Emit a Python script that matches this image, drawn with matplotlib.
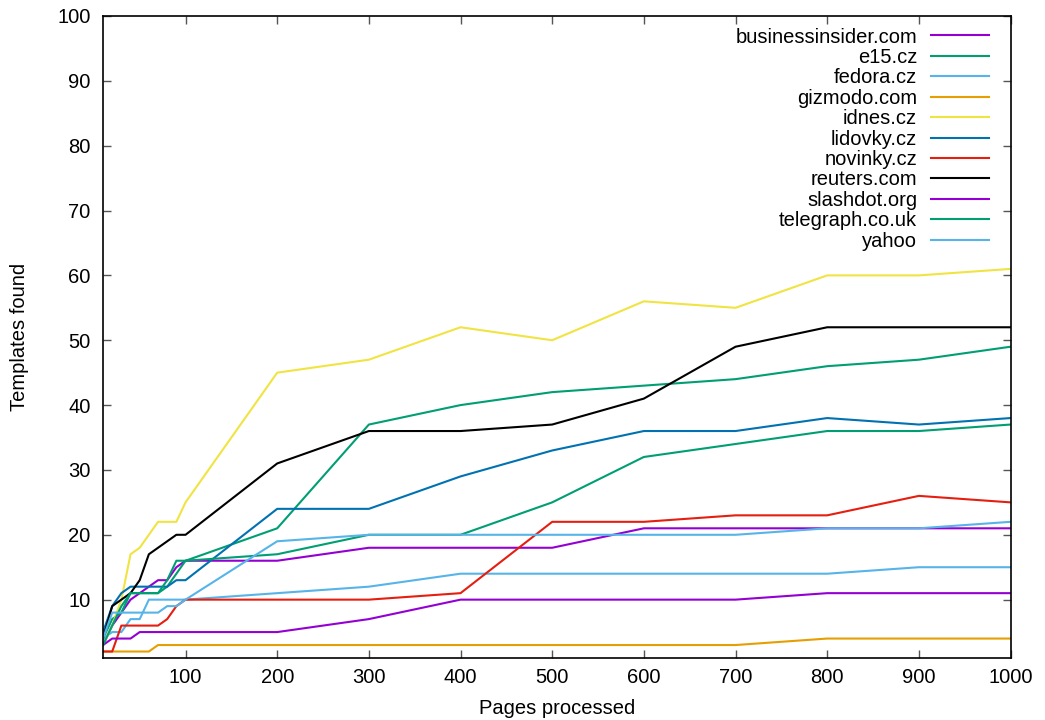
import numpy as np
import matplotlib
matplotlib.use("Agg")
import matplotlib.pyplot as plt

plt.rcParams['font.family'] = ['Liberation Sans', 'DejaVu Sans']

# pages processed
pages = [10, 20, 30, 40, 50, 60, 70, 80, 90, 100,
         200, 300, 400, 500, 600, 700, 800, 900, 1000]

# templates found per site
businessinsider = [3, 6, 8, 10, 11, 12, 13, 13, 15, 16, 16, 18, 18, 18, 21, 21, 21, 21, 21]
e15 = [4, 7, 8, 11, 11, 11, 11, 12, 14, 16, 21, 37, 40, 42, 43, 44, 46, 47, 49]
fedora = [4, 5, 5, 7, 7, 10, 10, 10, 10, 10, 11, 12, 14, 14, 14, 14, 14, 15, 15]
gizmodo = [2, 2, 2, 2, 2, 2, 3, 3, 3, 3, 3, 3, 3, 3, 3, 3, 4, 4, 4]
idnes = [3, 6, 10, 17, 18, 20, 22, 22, 22, 25, 45, 47, 52, 50, 56, 55, 60, 60, 61]
lidovky = [5, 9, 11, 12, 12, 12, 12, 12, 13, 13, 24, 24, 29, 33, 36, 36, 38, 37, 38]
novinky = [2, 2, 6, 6, 6, 6, 6, 7, 9, 10, 10, 10, 11, 22, 22, 23, 23, 26, 25]
reuters = [4, 9, 10, 11, 13, 17, 18, 19, 20, 20, 31, 36, 36, 37, 41, 49, 52, 52, 52]
slashdot = [3, 4, 4, 4, 5, 5, 5, 5, 5, 5, 5, 7, 10, 10, 10, 10, 11, 11, 11]
telegraph = [3, 6, 9, 11, 11, 11, 11, 13, 16, 16, 17, 20, 20, 25, 32, 34, 36, 36, 37]
yahoo = [4, 8, 8, 8, 8, 8, 8, 9, 9, 10, 19, 20, 20, 20, 20, 20, 21, 21, 22]

sites = ['businessinsider.com', 'e15.cz', 'fedora.cz', 'gizmodo.com', 'idnes.cz',
         'lidovky.cz', 'novinky.cz', 'reuters.com', 'slashdot.org', 'telegraph.co.uk', 'yahoo']
series = [businessinsider, e15, fedora, gizmodo, idnes, lidovky, novinky,
          reuters, slashdot, telegraph, yahoo]

# gnuplot default line colours
PURPLE = '#9400d3'
TEAL = '#009e73'
SKY = '#56b4e9'
ORANGE = '#e69f00'
YELLOW = '#f0e442'
BLUE = '#0072b2'
RED = '#e51e10'
BLACK = '#000000'
colors = [PURPLE, TEAL, SKY, ORANGE, YELLOW, BLUE, RED, BLACK, PURPLE, TEAL, SKY]

FS = 14.5

fig = plt.figure(figsize=(10.45, 7.2), dpi=100)
ax = fig.add_axes([0.0986, 0.0861, 0.8684, 0.8917])

for name, vals, c in zip(sites, series, colors):
    ax.plot(pages, vals, color=c, lw=1.5, label=name)

ax.set_xlim(10, 1000)
ax.set_ylim(1, 100)
ax.set_xticks(np.arange(100, 1001, 100))
ax.set_yticks(np.arange(10, 101, 10))
ax.tick_params(direction='in', length=6, width=1, color='#555555',
               top=True, right=True, labelsize=FS)
ax.tick_params(axis='y', pad=9)
ax.tick_params(axis='x', pad=7)
for s in ax.spines.values():
    s.set_linewidth(1.2)

ax.set_xlabel('Pages processed', fontsize=FS, labelpad=9)
ax.set_ylabel('Templates found', fontsize=FS, labelpad=20.5)

ax.legend(loc='upper right', bbox_to_anchor=(0.976, 0.982), frameon=False,
          markerfirst=False, fontsize=FS, handlelength=2.85, handletextpad=0.7,
          labelspacing=0.07, borderaxespad=0, borderpad=0)

fig.savefig('out.png', dpi=100)
